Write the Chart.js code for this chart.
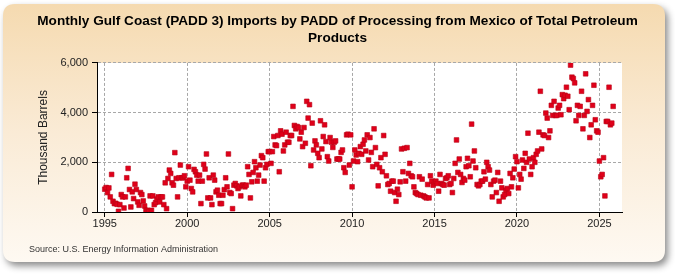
<!DOCTYPE html>
<html>
<head>
<meta charset="utf-8">
<script src="https://cdn.jsdelivr.net/npm/chart.js@4.4.1/dist/chart.umd.min.js"></script>
<style>
  html, body { margin: 0; padding: 0; background: #ffffff; overflow: hidden; }
  #wrap { width: 675px; height: 275px; position: relative; }
</style>
</head>
<body>
<div id="wrap"><canvas id="c" width="675" height="275"></canvas></div>
<script>
// ---------------- data ----------------
const titleLines = [
  'Monthly Gulf Coast (PADD 3) Imports by PADD of Processing from Mexico of Total Petroleum',
  'Products'
];
const yAxisTitle = 'Thousand Barrels';
const sourceNote = 'Source: U.S. Energy Information Administration';
const startYear = 1995;              // first month = January 1995
const xTickYears = [1995, 2000, 2005, 2010, 2015, 2020, 2025];
const yTickValues = [0, 2000, 4000, 6000];

// monthly values, thousand barrels (Jan 1995 ... Nov 2025), one row per year
const monthlyImports = [
  918, 985, 783, 970, 608, 1512, 432, 338, 350, 310, 27, 297,          // 1995
  702, 608, 162, 608, 1377, 1755, 905, 203, 810, 540, 1120, 905,       // 1996
  405, 270, 783, 702, 445, 243, 68, 68, 27, 648, 68, 648,              // 1997
  297, 378, 520, 608, 405, 608, 608, 297, 1175, 135, 1350, 1688,       // 1998
  1553, 1175, 1080, 2390, 1350, 608, 1377, 1890, 1377, 1377, 1458, 1013, // 1999
  1242, 1823, 1282, 945, 810, 1715, 1620, 1485, 1242, 1485, 338, 1242, // 2000
  1917, 1728, 2335, 567, 1377, 567, 297, 1485, 1282, 810, 878, 675,    // 2001
  338, 338, 675, 900, 1377, 1013, 2335, 783, 743, 135, 1080, 1148,     // 2002
  1053, 945, 1013, 648, 1080, 1080, 1013, 1080, 1823, 1512, 567, 1215, // 2003
  1593, 2025, 1782, 1242, 1485, 1890, 2268, 2187, 1242, 1782, 1917, 2430, // 2004
  2430, 1958, 2430, 3037, 2700, 2673, 3078, 1620, 3267, 3132, 2457, 2700, // 2005
  3213, 2808, 2808, 3078, 3078, 4252, 3483, 3348, 3442, 3400, 2943, 3213, // 2006
  2632, 3400, 2767, 4455, 3780, 4320, 1863, 3578, 2497, 2862, 2700, 2362, // 2007
  2187, 3672, 2538, 3037, 3510, 2835, 2227, 2052, 2997, 2808, 2600, 2808, // 2008
  2862, 2133, 2133, 2133, 2400, 2497, 1782, 1593, 3105, 3132, 1890, 3105, // 2009
  1013, 2052, 2497, 2295, 2025, 2362, 2632, 2322, 2727, 2900, 2457, 3105, // 2010
  2093, 2997, 2400, 1823, 3348, 2592, 1917, 1053, 1782, 2187, 1620, 3078, // 2011
  2322, 1458, 1107, 1148, 837, 1242, 1242, 783, 432, 918, 702, 1215,   // 2012
  2538, 1620, 2565, 1242, 2592, 1553, 1958, 1458, 1418, 1013, 783, 743, // 2013
  702, 1418, 675, 1323, 648, 608, 567, 1107, 567, 1458, 1242, 1080,    // 2014
  1188, 1242, 1148, 837, 1512, 1148, 1107, 1080, 1350, 1377, 1458, 1107, // 2015
  1148, 783, 1350, 1958, 2900, 1593, 2133, 1512, 1188, 1350, 1282, 1823, // 2016
  2160, 1863, 1418, 3537, 2052, 2457, 1782, 1107, 1053, 1107, 1242, 1242, // 2017
  1620, 1323, 2000, 1823, 1688, 1107, 608, 1242, 1282, 783, 1593, 432, // 2018
  1242, 972, 608, 702, 878, 945, 743, 1553, 1013, 1377, 1728, 2227,    // 2019
  2025, 972, 1512, 1323, 2093, 1755, 2362, 2000, 3172, 2133, 1512, 1823, // 2020
  2187, 2000, 2322, 2457, 3213, 4860, 2538, 3105, 3078, 3982, 3780, 2997, // 2021
  3267, 4293, 3888, 4455, 3888, 3888, 4185, 4293, 3915, 4725, 4563, 4698, // 2022
  5022, 4658, 4118, 5913, 5427, 5373, 5198, 3672, 4293, 3888, 4252, 4860, // 2023
  3348, 3888, 5562, 4050, 4523, 2997, 3510, 4293, 5103, 3713, 3267, 3213, // 2024
  2052, 1418, 1512, 2187, 648, 3645, 3645, 5022, 3510, 3578, 4252         // 2025
];

// ---------------- chart ----------------
const points = monthlyImports.map((v, i) => ({ x: startYear + i / 12, y: v }));

const FONT = '"Liberation Sans", Arial, Helvetica, sans-serif';

function roundRectPath(ctx, x, y, w, h, r) {
  ctx.beginPath();
  ctx.moveTo(x + r, y);
  ctx.lineTo(x + w - r, y);
  ctx.quadraticCurveTo(x + w, y, x + w, y + r);
  ctx.lineTo(x + w, y + h - r);
  ctx.quadraticCurveTo(x + w, y + h, x + w - r, y + h);
  ctx.lineTo(x + r, y + h);
  ctx.quadraticCurveTo(x, y + h, x, y + h - r);
  ctx.lineTo(x, y + r);
  ctx.quadraticCurveTo(x, y, x + r, y);
  ctx.closePath();
}

const panelPlugin = {
  id: 'panel',
  beforeDraw(chart) {
    const ctx = chart.ctx;
    const W = chart.width, H = chart.height;
    ctx.save();
    ctx.fillStyle = '#ffffff';
    ctx.fillRect(0, 0, W, H);
    ctx.shadowColor = 'rgba(0,0,0,0.45)';
    ctx.shadowBlur = 7;
    ctx.shadowOffsetX = 3;
    ctx.shadowOffsetY = 4;
    roundRectPath(ctx, 3, 4, 662, 258, 12);
    const g = ctx.createLinearGradient(0, 4, 0, 262);
    g.addColorStop(0, '#F5DAB0');
    g.addColorStop(0.5, '#FAEBD6');
    g.addColorStop(1, '#FEF9F2');
    ctx.fillStyle = g;
    ctx.fill();
    ctx.restore();
    const a = chart.chartArea;
    ctx.save();
    ctx.fillStyle = '#ffffff';
    ctx.fillRect(a.left, a.top, a.right - a.left, a.bottom - a.top);
    ctx.restore();
  },
  afterDraw(chart) {
    const ctx = chart.ctx;
    ctx.save();
    ctx.font = '9px ' + FONT;
    ctx.fillStyle = '#333333';
    ctx.textBaseline = 'middle';
    ctx.textAlign = 'left';
    ctx.fillText(sourceNote, 29, 250);
    ctx.restore();
  }
};

new Chart(document.getElementById('c'), {
  type: 'scatter',
  data: {
    datasets: [{
      label: 'Imports',
      data: points,
      pointStyle: 'rect',
      pointRadius: 3.3,
      pointHoverRadius: 3.3,
      backgroundColor: '#E0001A',
      borderColor: '#B80014',
      borderWidth: 0.6,
      showLine: false
    }]
  },
  options: {
    responsive: false,
    animation: false,
    events: [],
    layout: { padding: { left: 0, right: 0, top: 0, bottom: 38 } },
    plugins: {
      legend: { display: false },
      tooltip: { enabled: false },
      title: {
        display: true,
        text: titleLines,
        color: '#000000',
        font: { family: FONT, size: 13.6, weight: 'bold', lineHeight: 1.2 },
        padding: { top: 13.5, bottom: 16.8 }
      }
    },
    scales: {
      x: {
        type: 'linear',
        min: 1994.53,
        max: 2026.37,
        afterBuildTicks: s => { s.ticks = xTickYears.map(v => ({ value: v })); },
        afterFit: s => { s.height = 25; },
        ticks: {
          autoSkip: false,
          maxRotation: 0,
          padding: 0,
          color: '#222222',
          font: { family: FONT, size: 11 },
          callback: v => String(v)
        },
        grid: {
          color: '#A8A8A8',
          lineWidth: 1,
          tickColor: '#000000',
          tickLength: 5,
          tickWidth: 1
        },
        border: { display: true, color: '#000000', width: 1, dash: [3, 2] }
      },
      y: {
        min: 0,
        max: 6000,
        afterBuildTicks: s => { s.ticks = yTickValues.map(v => ({ value: v })); },
        afterFit: s => { s.width = 97; },
        ticks: {
          padding: 4,
          color: '#222222',
          font: { family: FONT, size: 11 }
        },
        grid: {
          color: c => (c.tick && c.tick.value === 0) ? 'rgba(0,0,0,0)' : '#A8A8A8',
          lineWidth: 1,
          tickColor: '#000000',
          tickLength: 5,
          tickWidth: 1
        },
        border: { display: true, color: '#000000', width: 1, dash: [3, 2] },
        title: {
          display: true,
          text: yAxisTitle,
          color: '#222222',
          font: { family: FONT, size: 12 },
          padding: { top: 36, bottom: 0 }
        }
      },
      spacer: {
        type: 'linear',
        position: 'right',
        min: 0,
        max: 1,
        afterFit: s => { s.width = 53; },
        ticks: { display: false },
        grid: { display: false, drawTicks: false },
        border: { display: false },
        title: { display: false }
      }
    }
  },
  plugins: [panelPlugin]
});
</script>
</body>
</html>
